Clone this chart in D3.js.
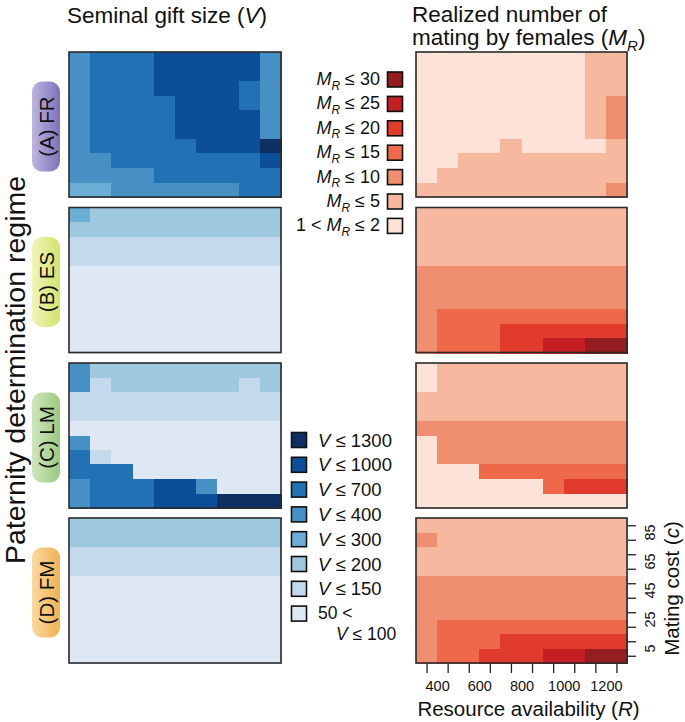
<!DOCTYPE html>
<html><head><meta charset="utf-8">
<script src="https://cdn.jsdelivr.net/npm/d3@7"></script>
<style>
html,body{margin:0;padding:0;background:#fff;}
svg text{font-family:"Liberation Sans",Arial,Helvetica,sans-serif;fill:#111;}
</style></head>
<body><svg id="chart" width="685" height="722"></svg>
<script>
// ---------------- data ----------------
const R_VALUES = [350, 450, 550, 650, 750, 850, 950, 1050, 1150, 1250]; // column centres
const C_VALUES = [90, 80, 70, 60, 50, 40, 30, 20, 10, 0];              // rows, top -> bottom
const X_TICK_LABELS = [400, 600, 800, 1000, 1200];
const Y_TICK_LABELS = [5, 25, 45, 65, 85];
const REGIMES = ["(A) FR", "(B) ES", "(C) LM", "(D) FM"];

const V_CLASSES = ["100", "150", "200", "300", "400", "700", "1000", "1300"];
const M_CLASSES = ["2", "5", "10", "15", "20", "25", "30"];
const V_COLORS = ["#dde8f4", "#c4d9ec", "#9dc8de", "#6baed6", "#4690c4", "#2171b4", "#0c4f98", "#0d2f62"];
const M_COLORS = ["#fde3d7", "#f6b9a0", "#f08e70", "#ed694a", "#e03b2d", "#c41e22", "#951d22"];

// class index of seminal gift size V (rows top -> bottom, columns R 350..1250)
const V_FR = ["4555666664","4555666664","4555666654","4555566654","4555566664",
              "4555566664","4555556667","4455555556","4444555555","3344444455"];
const V_ES = ["3222222222","2222222222","1111111111","1111111111","0000000000",
              "0000000000","0000000000","0000000000","0000000000","0000000000"];
const V_LM = ["4222222222","4122222212","1111111111","1111111111","0000000000",
              "4000000000","5100000000","5550000000","4555664000","4555666777"];
const V_FM = ["2222222222","2222222222","1111111111","1111111111","0000000000",
              "0000000000","0000000000","0000000000","0000000000","0000000000"];
// class index of realized number of matings M_R
const M_FR = ["0000000011","0000000011","0000000011","0000000012","0000000012",
              "0000000012","0000100001","0011111111","0111111111","1111111112"];
const M_ES = ["1111111111","1111111111","1111111111","1111111111","2222222222",
              "2222222222","2222222222","2333333333","2333444444","2333445566"];
const M_LM = ["0111111111","0111111111","1111111111","1111111111","2222222222",
              "0222222222","0222222222","0003333333","0000003444","0000000000"];
const M_FM = ["1111111111","2111111111","1111111111","1111111111","2222222222",
              "2222222222","2222222222","2333333333","2333444444","2334445566"];

const V_GRIDS = [V_FR, V_ES, V_LM, V_FM];
const M_GRIDS = [M_FR, M_ES, M_LM, M_FM];
const PILL_COLORS = [["#7e72b8", "#bdb5e0"], ["#d3e36c", "#f0f6b8"], ["#9cc97f", "#cfe6bd"], ["#f1b254", "#fad9a0"]];

// ---------------- layout ----------------
const svg = d3.select("#chart");
const FONT = '"Liberation Sans",Arial,Helvetica,sans-serif';
const colL = [69, 281], colR = [416, 627];
const panelTops = [52, 207.5, 363, 518];
const panelH = 145;

const vColor = d3.scaleOrdinal(d3.range(V_COLORS.length), V_COLORS);
const mColor = d3.scaleOrdinal(d3.range(M_COLORS.length), M_COLORS);

const defs = svg.append("defs");

function cells(grid) {
  const out = [];
  grid.forEach((row, i) => row.split("").forEach((ch, j) =>
    out.push({r: R_VALUES[j], c: C_VALUES[i], k: +ch})));
  return out;
}

function panel(grid, color, xr, top) {
  const x = d3.scaleLinear().domain([300, 1300]).range(xr);
  const y = d3.scaleLinear().domain([-5, 95]).range([top + panelH, top]);
  const g = svg.append("g");
  g.selectAll("rect.cell").data(cells(grid)).join("rect")
    .attr("class", "cell")
    .attr("shape-rendering", "crispEdges")
    .attr("x", d => Math.round(x(d.r - 50)))
    .attr("y", d => Math.round(y(d.c + 5)))
    .attr("width", d => Math.round(x(d.r + 50)) - Math.round(x(d.r - 50)) + 1)
    .attr("height", d => Math.round(y(d.c - 5)) - Math.round(y(d.c + 5)) + 1)
    .attr("fill", d => color(d.k));
  g.append("rect").attr("x", xr[0]).attr("y", top)
    .attr("width", xr[1] - xr[0]).attr("height", panelH)
    .attr("fill", "none").attr("stroke", "#2a2a2a").attr("stroke-width", 1.6);
  return {x, y};
}

let lastScales;
for (let p = 0; p < 4; p++) {
  panel(V_GRIDS[p], vColor, colL, panelTops[p]);
  lastScales = panel(M_GRIDS[p], mColor, colR, panelTops[p]);
}

// ---------------- axes on bottom-right panel ----------------
const {x: xs, y: ys} = lastScales;
const bottomY = panelTops[3] + panelH;
const xAx = svg.append("g").attr("transform", `translate(0,${bottomY + 1})`)
  .call(d3.axisBottom(xs).tickValues(R_VALUES).tickFormat("").tickSize(9).tickSizeOuter(0));
xAx.select(".domain").remove();
xAx.selectAll("line").attr("stroke", "#222").attr("stroke-width", 1.3);
const xLab = svg.append("g").attr("transform", `translate(0,${bottomY + 15})`)
  .call(d3.axisBottom(xs).tickValues(X_TICK_LABELS).tickFormat(d3.format("d")).tickSize(0));
xLab.select(".domain").remove();
xLab.selectAll("text").attr("font-family", FONT).attr("font-size", 14.5).attr("fill", "#111");

const yAx = svg.append("g").attr("transform", `translate(${colR[1] + 1},0)`)
  .call(d3.axisRight(ys).tickValues(C_VALUES).tickFormat("").tickSize(8).tickSizeOuter(0));
yAx.select(".domain").remove();
yAx.selectAll("line").attr("stroke", "#222").attr("stroke-width", 1.3);
svg.append("g").selectAll("text").data(Y_TICK_LABELS).join("text")
  .attr("transform", d => `translate(${colR[1] + 28},${ys(d)}) rotate(-90)`)
  .attr("text-anchor", "middle").attr("font-size", 14.5).text(d => d);

// axis titles
const xt = svg.append("text").attr("x", (colR[0] + colR[1]) / 2 + 7).attr("y", 716)
  .attr("text-anchor", "middle").attr("font-size", 20.5);
xt.append("tspan").text("Resource availability (");
xt.append("tspan").attr("font-style", "italic").text("R");
xt.append("tspan").text(")");

const yt = svg.append("text")
  .attr("transform", `translate(679,${panelTops[3] + panelH / 2 - 2}) rotate(-90)`)
  .attr("text-anchor", "middle").attr("font-size", 20.5);
yt.append("tspan").text("Mating cost (");
yt.append("tspan").attr("font-style", "italic").text("c");
yt.append("tspan").text(")");

// ---------------- column titles ----------------
const t1 = svg.append("text").attr("x", 67).attr("y", 23).attr("font-size", 22.5);
t1.append("tspan").text("Seminal gift size (");
t1.append("tspan").attr("font-style", "italic").text("V");
t1.append("tspan").text(")");

svg.append("text").attr("x", 412).attr("y", 22).attr("font-size", 22.5).text("Realized number of");
const t2 = svg.append("text").attr("x", 412).attr("y", 45).attr("font-size", 22.5);
t2.append("tspan").text("mating by females (");
t2.append("tspan").attr("font-style", "italic").text("M");
t2.append("tspan").attr("font-style", "italic").attr("font-size", 15).attr("dy", 6).text("R");
t2.append("tspan").attr("dy", -6).text(")");

// ---------------- row label ----------------
svg.append("text").attr("transform", "translate(25,370) rotate(-90)")
  .attr("text-anchor", "middle").attr("font-size", 28.5).text("Paternity determination regime");

REGIMES.forEach((lab, i) => {
  const cy = panelTops[i] + panelH / 2 + 2;
  const gid = "pill" + i;
  const grad = defs.append("linearGradient").attr("id", gid)
    .attr("x1", 0).attr("y1", 0).attr("x2", 0).attr("y2", 1);
  grad.append("stop").attr("offset", "0%").attr("stop-color", PILL_COLORS[i][1]);
  grad.append("stop").attr("offset", "100%").attr("stop-color", PILL_COLORS[i][0]);
  const g = svg.append("g").attr("transform", `translate(46,${cy}) rotate(-90)`);
  g.append("rect").attr("x", -45).attr("y", -14).attr("width", 90).attr("height", 28)
    .attr("rx", 10).attr("fill", `url(#${gid})`);
  g.append("text").attr("text-anchor", "middle").attr("y", 7.5).attr("font-size", 20.5).text(lab);
});

// ---------------- legends ----------------
const mLeg = svg.append("g");
const mItems = M_CLASSES.map((lab, i) => ({lab, i})).reverse();
mItems.forEach((d, j) => {
  const cy = 79.5 + j * 24.4;
  mLeg.append("rect").attr("x", 387.5).attr("y", cy - 7.5).attr("width", 15).attr("height", 15)
    .attr("fill", mColor(d.i)).attr("stroke", "#111").attr("stroke-width", 1.6);
  const t = mLeg.append("text").attr("x", 380).attr("y", cy + 5.5).attr("text-anchor", "end").attr("font-size", 18);
  if (d.i === 0) t.append("tspan").text("1 < ");
  t.append("tspan").attr("font-style", "italic").text("M");
  t.append("tspan").attr("font-style", "italic").attr("font-size", 12).attr("dy", 4.5).text("R");
  t.append("tspan").attr("dy", -4.5).text(" ≤ " + d.lab);
});

const vLeg = svg.append("g");
const vItems = V_CLASSES.map((lab, i) => ({lab, i})).reverse();
vItems.forEach((d, j) => {
  const cy = 440 + j * 24.8;
  vLeg.append("rect").attr("x", 291.5).attr("y", cy - 7.5).attr("width", 15).attr("height", 15)
    .attr("fill", vColor(d.i)).attr("stroke", "#111").attr("stroke-width", 1.6);
  if (d.i === 0) {
    vLeg.append("text").attr("x", 318).attr("y", cy + 5.5).attr("font-size", 17.5).text("50 <");
    const t = vLeg.append("text").attr("x", 336).attr("y", cy + 26).attr("font-size", 17.5);
    t.append("tspan").attr("font-style", "italic").text("V");
    t.append("tspan").text(" ≤ " + d.lab);
  } else {
    const t = vLeg.append("text").attr("x", 318).attr("y", cy + 6.5).attr("font-size", 18.5);
    t.append("tspan").attr("font-style", "italic").text("V");
    t.append("tspan").text(" ≤ " + d.lab);
  }
});
</script></body></html>
